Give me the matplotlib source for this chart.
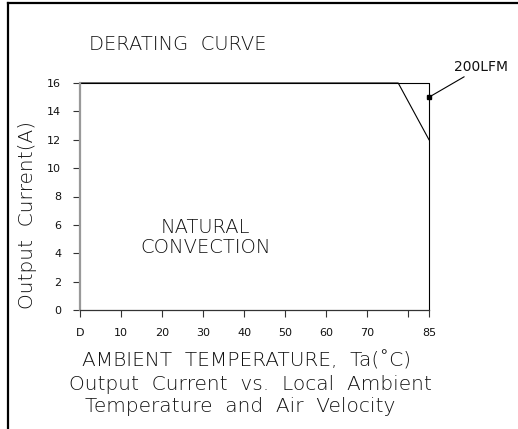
import numpy as np
import matplotlib
matplotlib.use("Agg")
import matplotlib.pyplot as plt
from matplotlib.lines import Line2D

# data
natural_temp = [0, 77.5, 85]
natural_current = [16, 16, 12]
lfm_temp = [0, 85, 85]
lfm_current = [16, 16, 0]
lfm_mark = (85, 15)

xticks = [0, 10, 20, 30, 40, 50, 60, 70, 80, 85]
xticklabels = ["D", "10", "20", "30", "40", "50", "60", "70", "", "85"]
yticks = [0, 2, 4, 6, 8, 10, 12, 14, 16]

plt.rcParams['font.family'] = ['DejaVu Sans']
W, H = 518, 429
TXT = "#111111"
fig = plt.figure(figsize=(W / 100, H / 100), dpi=100)
ax = fig.add_axes([80 / W, 1 - 310 / H, (429 - 80) / W, (310 - 83) / H])

ax.plot(natural_temp, natural_current, color="black", lw=0.8, clip_on=False)
ax.plot(lfm_temp, lfm_current, color="black", lw=0.8, clip_on=False)
ax.plot([lfm_mark[0]], [lfm_mark[1]], marker="s", ms=3.5, color="black", clip_on=False)

ax.set_xlim(0, 85)
ax.set_ylim(0, 16)
ax.set_xticks(xticks)
ax.set_xticklabels(xticklabels)
ax.set_yticks(yticks)
ax.tick_params(direction="out", length=5, width=0.8, color="#333333",
               labelsize=8, labelcolor=TXT)
ax.tick_params(axis="x", pad=8)
ax.tick_params(axis="y", pad=8.5)

ax.spines["top"].set_visible(False)
ax.spines["right"].set_visible(False)
ax.spines["left"].set_color("#999999")
ax.spines["left"].set_linewidth(1.6)
ax.spines["bottom"].set_color("#333333")
ax.spines["bottom"].set_linewidth(0.9)

ax.text(30.6, 5.85, "NATURAL", ha="center", va="center", fontsize=14,
        color=TXT, fontweight="light")
ax.text(30.6, 4.4, "CONVECTION", ha="center", va="center", fontsize=14,
        color=TXT, fontweight="light")

# leader and label for 200LFM
ax.annotate("200LFM", xy=lfm_mark, xytext=(454 / W, 1 - 67 / H),
            textcoords="figure fraction", ha="left", va="center",
            fontsize=10, color=TXT,
            arrowprops=dict(arrowstyle="-", color="black", lw=0.8,
                            shrinkA=0, shrinkB=0))

ax.set_ylabel("Output  Current(A)", fontsize=14.5, color=TXT, fontweight="light")
ax.yaxis.set_label_coords(-43 / (429 - 80), 0.42)

fig.text(177.5 / W, 1 - 45 / H, "DERATING  CURVE", ha="center", va="center",
         fontsize=14, color=TXT, fontweight="light")
fig.text(247 / W, 1 - 361 / H, "AMBIENT  TEMPERATURE,  Ta(\u02daC)", ha="center",
         va="center", fontsize=14.5, color=TXT, fontweight="light")
fig.text(250 / W, 1 - 384 / H, "Output  Current  vs.  Local  Ambient", ha="center",
         va="center", fontsize=14.5, color=TXT, fontweight="light")
fig.text(240 / W, 1 - 406 / H, "Temperature  and  Air  Velocity", ha="center",
         va="center", fontsize=14.5, color=TXT, fontweight="light")

# outer frame (left and top edges)
fig.add_artist(Line2D([8 / W, 8 / W], [0, 1 - 3 / H], color="black", lw=1.6,
                      transform=fig.transFigure))
fig.add_artist(Line2D([8 / W, 1], [1 - 3 / H, 1 - 3 / H], color="black", lw=1.6,
                      transform=fig.transFigure))

fig.savefig("out.png", dpi=100)
